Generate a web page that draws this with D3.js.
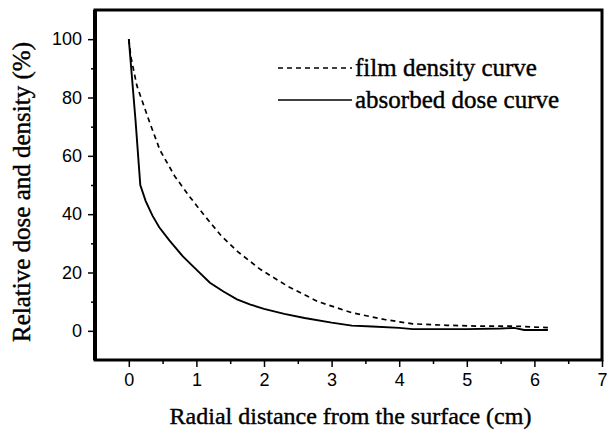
<!DOCTYPE html>
<html>
<head>
<meta charset="utf-8">
<script src="https://cdn.jsdelivr.net/npm/d3@7"></script>
<style>
  body { margin: 0; background: #fff; }
  svg { display: block; }
  .serif { font-family: "Liberation Serif", "Times New Roman", Times, serif; }
  .tick text { font-family: "Liberation Sans Narrow", "Liberation Sans", Arial, sans-serif; }
</style>
</head>
<body>
<div id="chart"></div>
<script>
// absorbed dose curve (solid)
const doseX = [0, 0.05, 0.1, 0.17, 0.25, 0.35, 0.45, 0.6, 0.8, 1.0, 1.2, 1.4, 1.6, 1.8, 2.0, 2.3, 2.6, 3.0, 3.3, 3.6, 4.0, 4.2, 4.5, 5.0, 5.5, 5.7, 5.85, 6.0, 6.2];
const doseY = [100, 86, 72, 50, 44.5, 39.5, 35.5, 31, 25.5, 21, 16.5, 13.5, 10.8, 9, 7.5, 5.8, 4.4, 2.8, 1.8, 1.5, 1.0, 0.6, 0.6, 0.6, 0.8, 1.0, 0.3, 0.3, 0.3];

// film density curve (dashed)
const filmX = [0, 0.03, 0.12, 0.3, 0.46, 0.68, 0.9, 1.12, 1.37, 1.62, 1.95, 2.35, 2.8, 3.3, 3.8, 4.2, 4.7, 5.2, 5.7, 6.2];
const filmY = [100, 94, 84, 72, 62, 53, 46, 39.5, 32.5, 27, 21, 15.3, 10, 6.2, 3.8, 2.4, 1.9, 1.6, 1.6, 1.1];

const xTicks = [0, 1, 2, 3, 4, 5, 6, 7];
const xMinor = [0.5, 1.5, 2.5, 3.5, 4.5, 5.5, 6.5];
const yTicks = [0, 20, 40, 60, 80, 100];
const yMinor = [10, 30, 50, 70, 90];

const legendLabels = ["film density curve", "absorbed dose curve"];

const width = 612, height = 436;
const plotLeft = 95, plotRight = 602, plotTop = 10, plotBottom = 360;

const svg = d3.select("#chart").append("svg")
  .attr("width", width)
  .attr("height", height)
  .style("background", "#fff");

const x = d3.scaleLinear().domain([-0.5, 7]).range([plotLeft, plotRight]);
const y = d3.scaleLinear().domain([-10, 110]).range([plotBottom, plotTop]);

// minor ticks
svg.append("g")
  .attr("transform", "translate(0," + plotBottom + ")")
  .call(d3.axisBottom(x).tickValues(xMinor).tickSize(4).tickFormat("").tickSizeOuter(0))
  .call(g => g.select(".domain").remove())
  .selectAll("line").attr("stroke-width", 1.5);

svg.append("g")
  .attr("transform", "translate(" + plotLeft + ",0)")
  .call(d3.axisLeft(y).tickValues(yMinor).tickSize(4).tickFormat("").tickSizeOuter(0))
  .call(g => g.select(".domain").remove())
  .selectAll("line").attr("stroke-width", 1.5);

// major ticks
const xAxis = svg.append("g")
  .attr("transform", "translate(0," + plotBottom + ")")
  .call(d3.axisBottom(x).tickValues(xTicks).tickSize(7).tickPadding(6).tickSizeOuter(0));
xAxis.select(".domain").remove();
xAxis.selectAll("line").attr("stroke-width", 1.5);
xAxis.selectAll("text")
  .attr("font-size", 18)
  .attr("fill", "#000");

const yAxis = svg.append("g")
  .attr("transform", "translate(" + plotLeft + ",0)")
  .call(d3.axisLeft(y).tickValues(yTicks).tickSize(7).tickPadding(6).tickSizeOuter(0));
yAxis.select(".domain").remove();
yAxis.selectAll("line").attr("stroke-width", 1.5);
yAxis.selectAll("text")
  .attr("font-size", 18)
  .attr("fill", "#000");

// frame
svg.append("rect")
  .attr("x", plotLeft)
  .attr("y", plotTop)
  .attr("width", plotRight - plotLeft)
  .attr("height", plotBottom - plotTop)
  .attr("fill", "none")
  .attr("stroke", "#000")
  .attr("stroke-width", 3);

// left spine is a bit heavier in the scan
svg.append("line")
  .attr("x1", plotLeft).attr("x2", plotLeft)
  .attr("y1", plotTop).attr("y2", plotBottom)
  .attr("stroke", "#000")
  .attr("stroke-width", 4);

const line = d3.line()
  .x(d => x(d[0]))
  .y(d => y(d[1]));

svg.append("path")
  .datum(filmX.map((v, i) => [v, filmY[i]]))
  .attr("d", line)
  .attr("fill", "none")
  .attr("stroke", "#000")
  .attr("stroke-width", 1.7)
  .attr("stroke-dasharray", "5,4");

svg.append("path")
  .datum(doseX.map((v, i) => [v, doseY[i]]))
  .attr("d", line)
  .attr("fill", "none")
  .attr("stroke", "#000")
  .attr("stroke-width", 1.9);

// legend
const legend = svg.append("g");
const legendY = [68, 100];
legendLabels.forEach((label, i) => {
  legend.append("line")
    .attr("x1", 278)
    .attr("x2", 352)
    .attr("y1", legendY[i])
    .attr("y2", legendY[i])
    .attr("stroke", "#000")
    .attr("stroke-width", 1.6)
    .attr("stroke-dasharray", i === 0 ? "5,4" : null);
  legend.append("text")
    .attr("class", "serif")
    .attr("x", 355)
    .attr("y", legendY[i] + 8)
    .attr("font-size", 25)
    .attr("stroke", "#000")
    .attr("stroke-width", 0.4)
    .text(label);
});

// axis titles
svg.append("text")
  .attr("class", "serif")
  .attr("x", (plotLeft + plotRight) / 2 + 2)
  .attr("y", 424)
  .attr("text-anchor", "middle")
  .attr("font-size", 24)
  .attr("stroke", "#000")
  .attr("stroke-width", 0.4)
  .text("Radial distance from the surface (cm)");

svg.append("text")
  .attr("class", "serif")
  .attr("transform", "translate(30,192) rotate(-90)")
  .attr("text-anchor", "middle")
  .attr("font-size", 25)
  .attr("stroke", "#000")
  .attr("stroke-width", 0.4)
  .text("Relative dose and density (%)");
</script>
</body>
</html>
